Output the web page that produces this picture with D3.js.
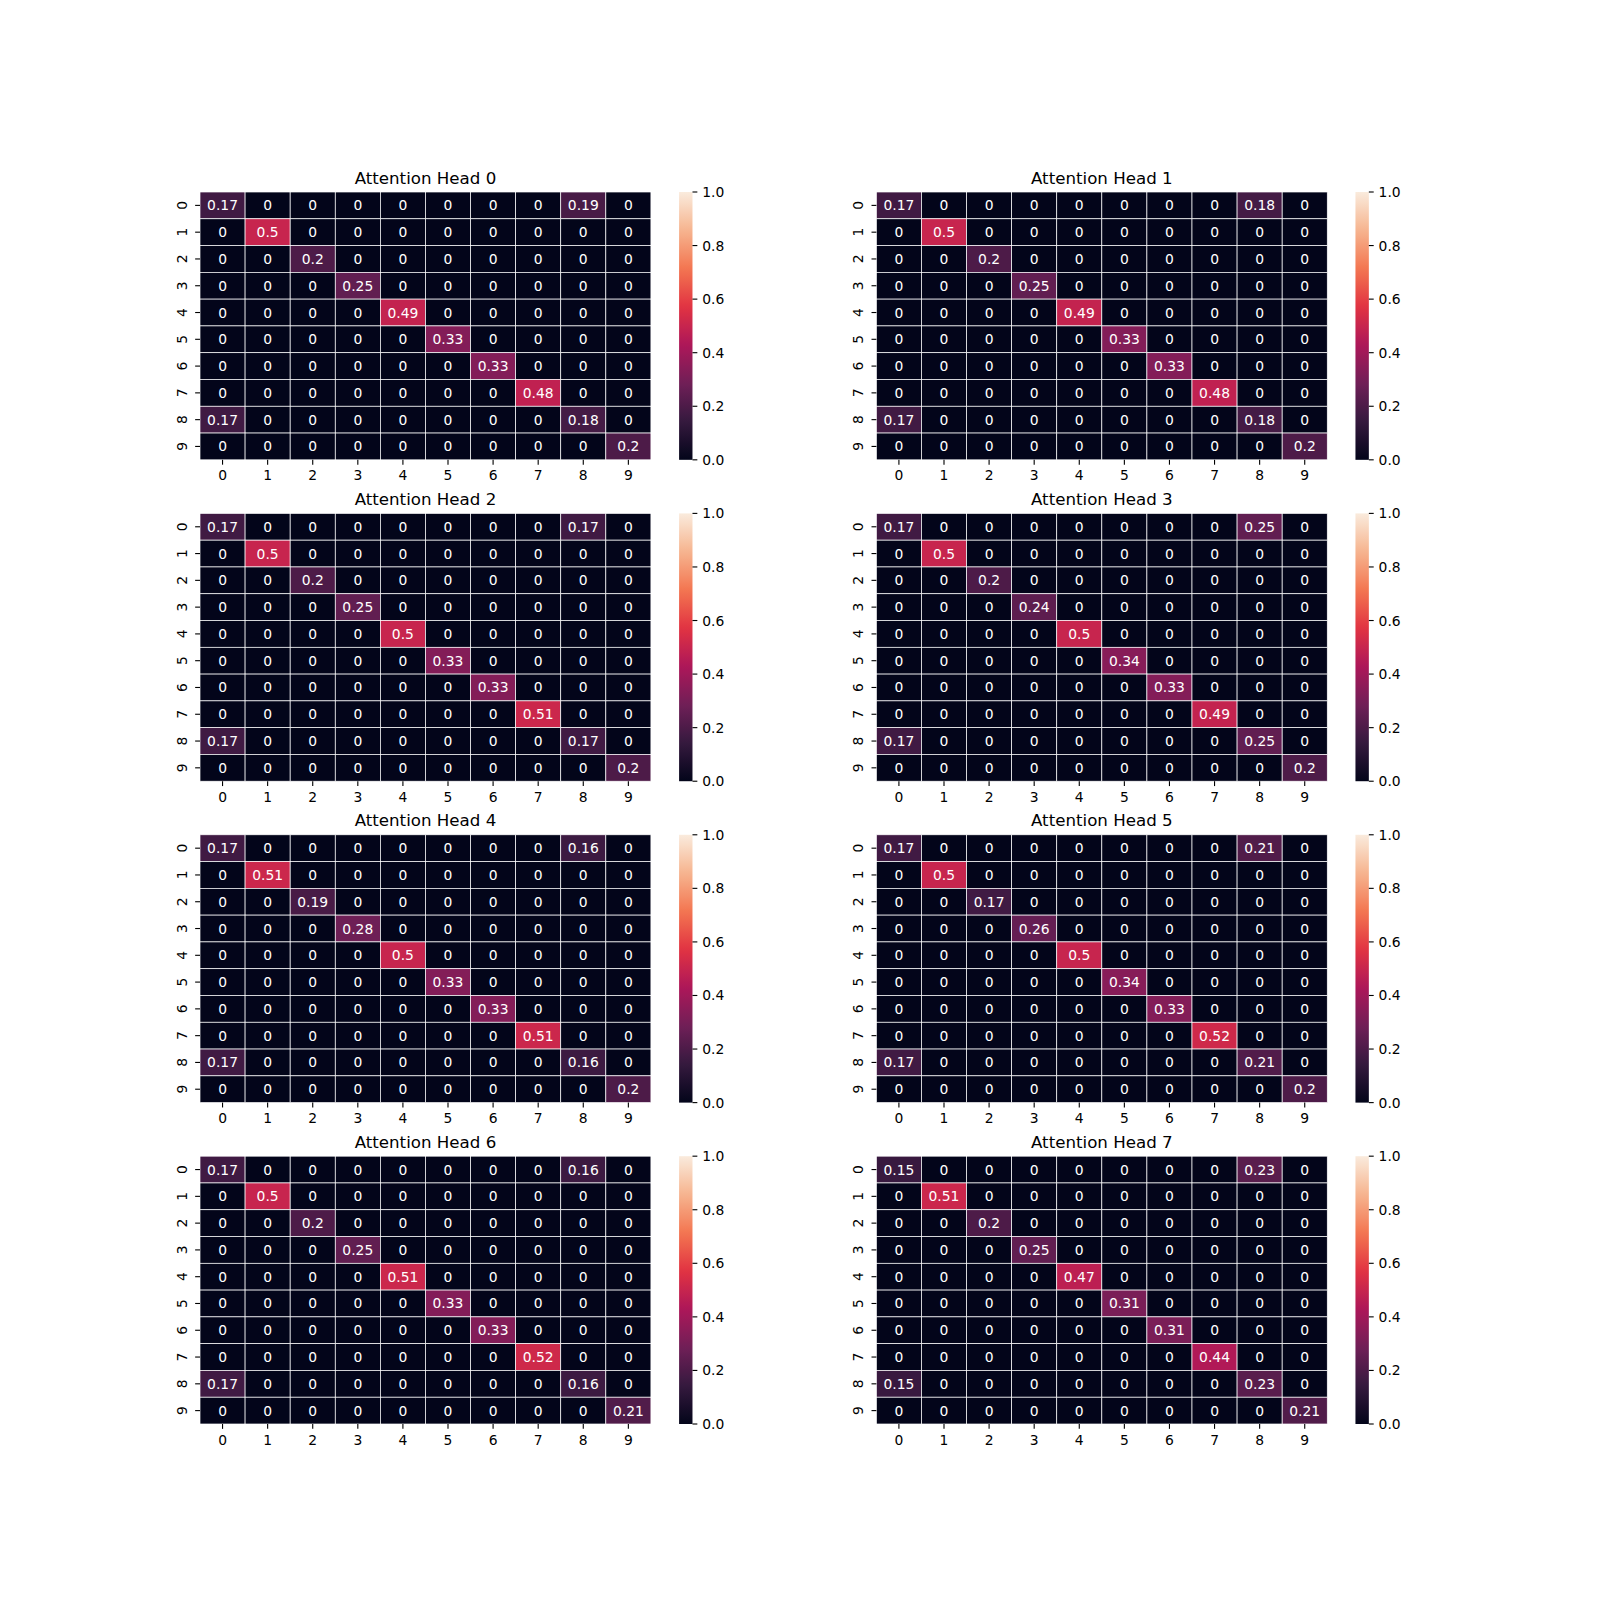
<!DOCTYPE html>
<html>
<head>
<meta charset="utf-8">
<script src="https://cdn.jsdelivr.net/npm/d3@7"></script>
<style>
  html, body { margin: 0; padding: 0; background: #ffffff; }
  svg { display: block; font-family: "DejaVu Sans", sans-serif; }
</style>
</head>
<body>
<svg id="chart" width="1600" height="1600"></svg>
<script>
// ---------------- data ----------------
const headTitles = ["Attention Head 0","Attention Head 1","Attention Head 2","Attention Head 3",
                    "Attention Head 4","Attention Head 5","Attention Head 6","Attention Head 7"];
const rowLabels = ["0","1","2","3","4","5","6","7","8","9"];
const colLabels = ["0","1","2","3","4","5","6","7","8","9"];
const colorbarTicks = [0.0, 0.2, 0.4, 0.6, 0.8, 1.0];

const head0 = [
  [0.17,0,0,0,0,0,0,0,0.19,0],
  [0,0.5,0,0,0,0,0,0,0,0],
  [0,0,0.2,0,0,0,0,0,0,0],
  [0,0,0,0.25,0,0,0,0,0,0],
  [0,0,0,0,0.49,0,0,0,0,0],
  [0,0,0,0,0,0.33,0,0,0,0],
  [0,0,0,0,0,0,0.33,0,0,0],
  [0,0,0,0,0,0,0,0.48,0,0],
  [0.17,0,0,0,0,0,0,0,0.18,0],
  [0,0,0,0,0,0,0,0,0,0.2]
];
const head1 = [
  [0.17,0,0,0,0,0,0,0,0.18,0],
  [0,0.5,0,0,0,0,0,0,0,0],
  [0,0,0.2,0,0,0,0,0,0,0],
  [0,0,0,0.25,0,0,0,0,0,0],
  [0,0,0,0,0.49,0,0,0,0,0],
  [0,0,0,0,0,0.33,0,0,0,0],
  [0,0,0,0,0,0,0.33,0,0,0],
  [0,0,0,0,0,0,0,0.48,0,0],
  [0.17,0,0,0,0,0,0,0,0.18,0],
  [0,0,0,0,0,0,0,0,0,0.2]
];
const head2 = [
  [0.17,0,0,0,0,0,0,0,0.17,0],
  [0,0.5,0,0,0,0,0,0,0,0],
  [0,0,0.2,0,0,0,0,0,0,0],
  [0,0,0,0.25,0,0,0,0,0,0],
  [0,0,0,0,0.5,0,0,0,0,0],
  [0,0,0,0,0,0.33,0,0,0,0],
  [0,0,0,0,0,0,0.33,0,0,0],
  [0,0,0,0,0,0,0,0.51,0,0],
  [0.17,0,0,0,0,0,0,0,0.17,0],
  [0,0,0,0,0,0,0,0,0,0.2]
];
const head3 = [
  [0.17,0,0,0,0,0,0,0,0.25,0],
  [0,0.5,0,0,0,0,0,0,0,0],
  [0,0,0.2,0,0,0,0,0,0,0],
  [0,0,0,0.24,0,0,0,0,0,0],
  [0,0,0,0,0.5,0,0,0,0,0],
  [0,0,0,0,0,0.34,0,0,0,0],
  [0,0,0,0,0,0,0.33,0,0,0],
  [0,0,0,0,0,0,0,0.49,0,0],
  [0.17,0,0,0,0,0,0,0,0.25,0],
  [0,0,0,0,0,0,0,0,0,0.2]
];
const head4 = [
  [0.17,0,0,0,0,0,0,0,0.16,0],
  [0,0.51,0,0,0,0,0,0,0,0],
  [0,0,0.19,0,0,0,0,0,0,0],
  [0,0,0,0.28,0,0,0,0,0,0],
  [0,0,0,0,0.5,0,0,0,0,0],
  [0,0,0,0,0,0.33,0,0,0,0],
  [0,0,0,0,0,0,0.33,0,0,0],
  [0,0,0,0,0,0,0,0.51,0,0],
  [0.17,0,0,0,0,0,0,0,0.16,0],
  [0,0,0,0,0,0,0,0,0,0.2]
];
const head5 = [
  [0.17,0,0,0,0,0,0,0,0.21,0],
  [0,0.5,0,0,0,0,0,0,0,0],
  [0,0,0.17,0,0,0,0,0,0,0],
  [0,0,0,0.26,0,0,0,0,0,0],
  [0,0,0,0,0.5,0,0,0,0,0],
  [0,0,0,0,0,0.34,0,0,0,0],
  [0,0,0,0,0,0,0.33,0,0,0],
  [0,0,0,0,0,0,0,0.52,0,0],
  [0.17,0,0,0,0,0,0,0,0.21,0],
  [0,0,0,0,0,0,0,0,0,0.2]
];
const head6 = [
  [0.17,0,0,0,0,0,0,0,0.16,0],
  [0,0.5,0,0,0,0,0,0,0,0],
  [0,0,0.2,0,0,0,0,0,0,0],
  [0,0,0,0.25,0,0,0,0,0,0],
  [0,0,0,0,0.51,0,0,0,0,0],
  [0,0,0,0,0,0.33,0,0,0,0],
  [0,0,0,0,0,0,0.33,0,0,0],
  [0,0,0,0,0,0,0,0.52,0,0],
  [0.17,0,0,0,0,0,0,0,0.16,0],
  [0,0,0,0,0,0,0,0,0,0.21]
];
const head7 = [
  [0.15,0,0,0,0,0,0,0,0.23,0],
  [0,0.51,0,0,0,0,0,0,0,0],
  [0,0,0.2,0,0,0,0,0,0,0],
  [0,0,0,0.25,0,0,0,0,0,0],
  [0,0,0,0,0.47,0,0,0,0,0],
  [0,0,0,0,0,0.31,0,0,0,0],
  [0,0,0,0,0,0,0.31,0,0,0],
  [0,0,0,0,0,0,0,0.44,0,0],
  [0.15,0,0,0,0,0,0,0,0.23,0],
  [0,0,0,0,0,0,0,0,0,0.21]
];
const heads = [head0, head1, head2, head3, head4, head5, head6, head7];

// seaborn "rocket" colormap anchor colours (equally spaced 0..1)
const rocketStops = ["#03051a","#35193e","#701f57","#ad1759","#e13342","#f37651","#f6b48f","#faebdd"];

// ---------------- layout ----------------
const svg = d3.select("#chart");
const figL = 200, figR = 1440, figT = 192, figB = 1424;
const nCols = 2, nRows = 4, wspace = 0.2, hspace = 0.2;
const cellW = (figR - figL) / (nCols + (nCols - 1) * wspace);
const cellH = (figB - figT) / (nRows + (nRows - 1) * hspace);
const hmW = cellW * (1 - 0.15 - 0.05);
const cbW = cellH / 20;

const px = pt => pt * 100 / 72;
const tickLen = px(3.5), tickPad = px(3.5);
const fs = px(10), titleFs = px(12);

const rocket = d3.piecewise(d3.interpolateRgb, rocketStops);
const color = d3.scaleSequential(rocket).domain([0, 1]);
const fmt = d3.format(".2~g");

// gradient for colorbar
const defs = svg.append("defs");
const grad = defs.append("linearGradient").attr("id", "cbgrad")
  .attr("x1", 0).attr("y1", 1).attr("x2", 0).attr("y2", 0);
d3.range(0, 1.0001, 0.02).forEach(t => {
  grad.append("stop").attr("offset", t).attr("stop-color", color(t));
});

heads.forEach((mat, i) => {
  const r = Math.floor(i / nCols), c = i % nCols;
  const x0 = figL + c * cellW * (1 + wspace);
  const y0 = figT + r * cellH * (1 + hspace);
  const g = svg.append("g").attr("transform", `translate(${x0},${y0})`);

  const x = d3.scaleBand().domain(colLabels).range([0, hmW]).padding(0);
  const y = d3.scaleBand().domain(rowLabels).range([0, cellH]).padding(0);

  const cells = [];
  mat.forEach((row, ri) => row.forEach((v, ci) => cells.push({ r: rowLabels[ri], c: colLabels[ci], v })));

  g.selectAll("rect.cell").data(cells).join("rect")
    .attr("class", "cell")
    .attr("x", d => x(d.c)).attr("y", d => y(d.r))
    .attr("width", x.bandwidth()).attr("height", y.bandwidth())
    .attr("fill", d => color(d.v))
    .attr("stroke", "#ffffff").attr("stroke-width", 0.7);

  g.selectAll("text.ann").data(cells).join("text")
    .attr("class", "ann")
    .attr("x", d => x(d.c) + x.bandwidth() / 2)
    .attr("y", d => y(d.r) + y.bandwidth() / 2)
    .attr("dy", "0.36em")
    .attr("text-anchor", "middle")
    .attr("font-size", fs)
    .attr("fill", d => d3.lab(color(d.v)).l > 60 ? "#262626" : "#ffffff")
    .text(d => fmt(d.v));

  // x axis
  const xa = g.append("g").attr("transform", `translate(0,${cellH})`);
  colLabels.forEach(lbl => {
    const cx = x(lbl) + x.bandwidth() / 2;
    xa.append("line").attr("x1", cx).attr("x2", cx).attr("y1", 0).attr("y2", tickLen)
      .attr("stroke", "#000").attr("stroke-width", px(0.8));
    xa.append("text").attr("x", cx).attr("y", tickLen + tickPad + 10.8)
      .attr("text-anchor", "middle").attr("font-size", fs).attr("fill", "#000").text(lbl);
  });

  // y axis (labels rotated)
  rowLabels.forEach(lbl => {
    const cy = y(lbl) + y.bandwidth() / 2;
    g.append("line").attr("x1", -tickLen).attr("x2", 0).attr("y1", cy).attr("y2", cy)
      .attr("stroke", "#000").attr("stroke-width", px(0.8));
    const tx = -tickLen - tickPad - 3.3;
    g.append("text").attr("transform", `translate(${tx},${cy}) rotate(-90)`)
      .attr("text-anchor", "middle").attr("font-size", fs).attr("fill", "#000").text(lbl);
  });

  // title
  g.append("text").attr("x", hmW / 2).attr("y", -px(6))
    .attr("text-anchor", "middle").attr("font-size", titleFs).attr("fill", "#000")
    .text(headTitles[i]);

  // colorbar
  const cbX = cellW * 0.85;
  const cb = g.append("g").attr("transform", `translate(${cbX},0)`);
  cb.append("rect").attr("x", 0).attr("y", 0).attr("width", cbW).attr("height", cellH)
    .attr("fill", "url(#cbgrad)");
  const cbScale = d3.scaleLinear().domain([0, 1]).range([cellH, 0]);
  colorbarTicks.forEach(t => {
    const ty = cbScale(t);
    cb.append("line").attr("x1", cbW).attr("x2", cbW + tickLen).attr("y1", ty).attr("y2", ty)
      .attr("stroke", "#000").attr("stroke-width", px(0.8));
    cb.append("text").attr("x", cbW + tickLen + tickPad).attr("y", ty).attr("dy", "0.36em")
      .attr("font-size", fs).attr("fill", "#000").text(d3.format(".1f")(t));
  });
});
</script>
</body>
</html>
